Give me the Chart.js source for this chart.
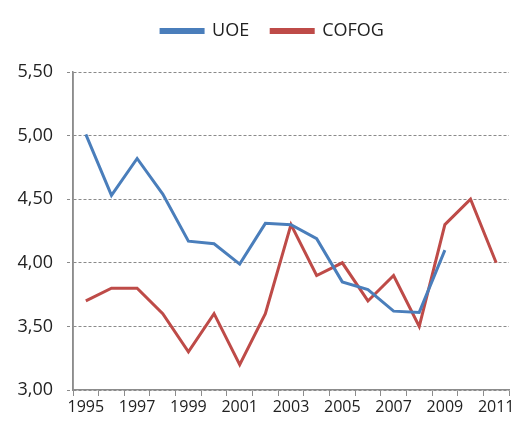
<!DOCTYPE html>
<html>
<head>
<meta charset="utf-8">
<script src="https://cdn.jsdelivr.net/npm/chart.js@4"></script>
<style>
  html, body { margin: 0; padding: 0; background: #fff; }
  #wrap { width: 518px; height: 423px; }
</style>
</head>
<body>
<div id="wrap"><canvas id="myChart" width="518" height="423"></canvas></div>
<script>
// years on the x axis and the two series
var years = ['1995', '1996', '1997', '1998', '1999', '2000', '2001', '2002', '2003',
             '2004', '2005', '2006', '2007', '2008', '2009', '2010', '2011'];
var uoe = [5.01, 4.53, 4.82, 4.54, 4.17, 4.15, 3.99, 4.31, 4.30,
           4.19, 3.85, 3.79, 3.62, 3.61, 4.10, null, null];
var cofog = [3.70, 3.80, 3.80, 3.60, 3.30, 3.60, 3.20, 3.60, 4.30,
             3.90, 4.00, 3.70, 3.90, 3.50, 4.30, 4.50, 4.00];
var yMin = 3.0, yMax = 5.5, yStep = 0.5;

var blue = '#4a7ebb';
var red = '#be4b48';
var axisGrey = '#8c8c8c';
var fontFam = "'Open Sans', 'Liberation Sans', sans-serif";

// push the plot down a bit under the legend, and nudge the legend right
const legendGap = {
    id: 'legendGap',
    beforeInit: function (chart) {
        const origFit = chart.legend.fit;
        chart.legend.fit = function () {
            origFit.bind(chart.legend)();
            this.height += 22;
        };
    },
    afterLayout: function (chart) {
        chart.legend.left += 16;
        chart.legend.right += 16;
    }
};

// the y axis line itself is solid, only the gridlines are dashed
const solidYAxis = {
    id: 'solidYAxis',
    afterDraw: function (chart) {
        const ctx = chart.ctx;
        const area = chart.chartArea;
        ctx.save();
        ctx.strokeStyle = axisGrey;
        ctx.lineWidth = 1.5;
        ctx.setLineDash([]);
        ctx.beginPath();
        ctx.moveTo(area.left, area.top);
        ctx.lineTo(area.left, area.bottom);
        ctx.stroke();
        ctx.restore();
    }
};

const canvas = document.getElementById('myChart');
var myChart = new Chart(canvas, {
    type: 'line',
    data: {
        labels: years,
        datasets: [
            {
                label: 'UOE',
                data: uoe,
                borderColor: blue,
                backgroundColor: blue,
                borderWidth: 3,
                pointRadius: 0,
                tension: 0,
                fill: false
            },
            {
                label: 'COFOG',
                data: cofog,
                borderColor: red,
                backgroundColor: red,
                borderWidth: 3,
                pointRadius: 0,
                tension: 0,
                fill: false
            }
        ]
    },
    options: {
        responsive: false,
        animation: false,
        devicePixelRatio: 1,
        layout: { padding: { left: 4, right: 9, top: 0, bottom: 4 } },
        plugins: {
            legend: {
                position: 'top',
                labels: {
                    boxWidth: 42,
                    boxHeight: 3,
                    padding: 22,
                    color: '#222',
                    font: { family: fontFam, size: 18 }
                }
            },
            tooltip: { enabled: false }
        },
        scales: {
            x: {
                offset: true,
                grid: {
                    offset: true,
                    drawOnChartArea: false,
                    drawTicks: true,
                    tickLength: 6,
                    color: axisGrey
                },
                border: { display: true, color: axisGrey, width: 1.5 },
                ticks: {
                    autoSkip: false,
                    maxRotation: 0,
                    padding: 2,
                    color: '#222',
                    font: { family: fontFam, size: 16 },
                    callback: function (val, idx) {
                        return idx % 2 === 0 ? this.getLabelForValue(val) : '';
                    }
                },
                afterFit: function (scale) { scale.height = 29; }
            },
            y: {
                min: yMin,
                max: yMax,
                grid: {
                    color: '#8a8a8a',
                    lineWidth: 1,
                    tickLength: 6,
                    tickColor: '#8a8a8a',
                    tickBorderDash: [3, 2]
                },
                border: { display: true, color: axisGrey, width: 1.5, dash: [3, 2] },
                ticks: {
                    stepSize: yStep,
                    padding: 14,
                    color: '#222',
                    font: { family: fontFam, size: 18 },
                    callback: function (val) {
                        return val.toFixed(2).replace('.', ',');
                    }
                },
                afterFit: function (scale) { scale.width = 69; }
            }
        }
    },
    plugins: [legendGap, solidYAxis]
});
</script>
</body>
</html>
